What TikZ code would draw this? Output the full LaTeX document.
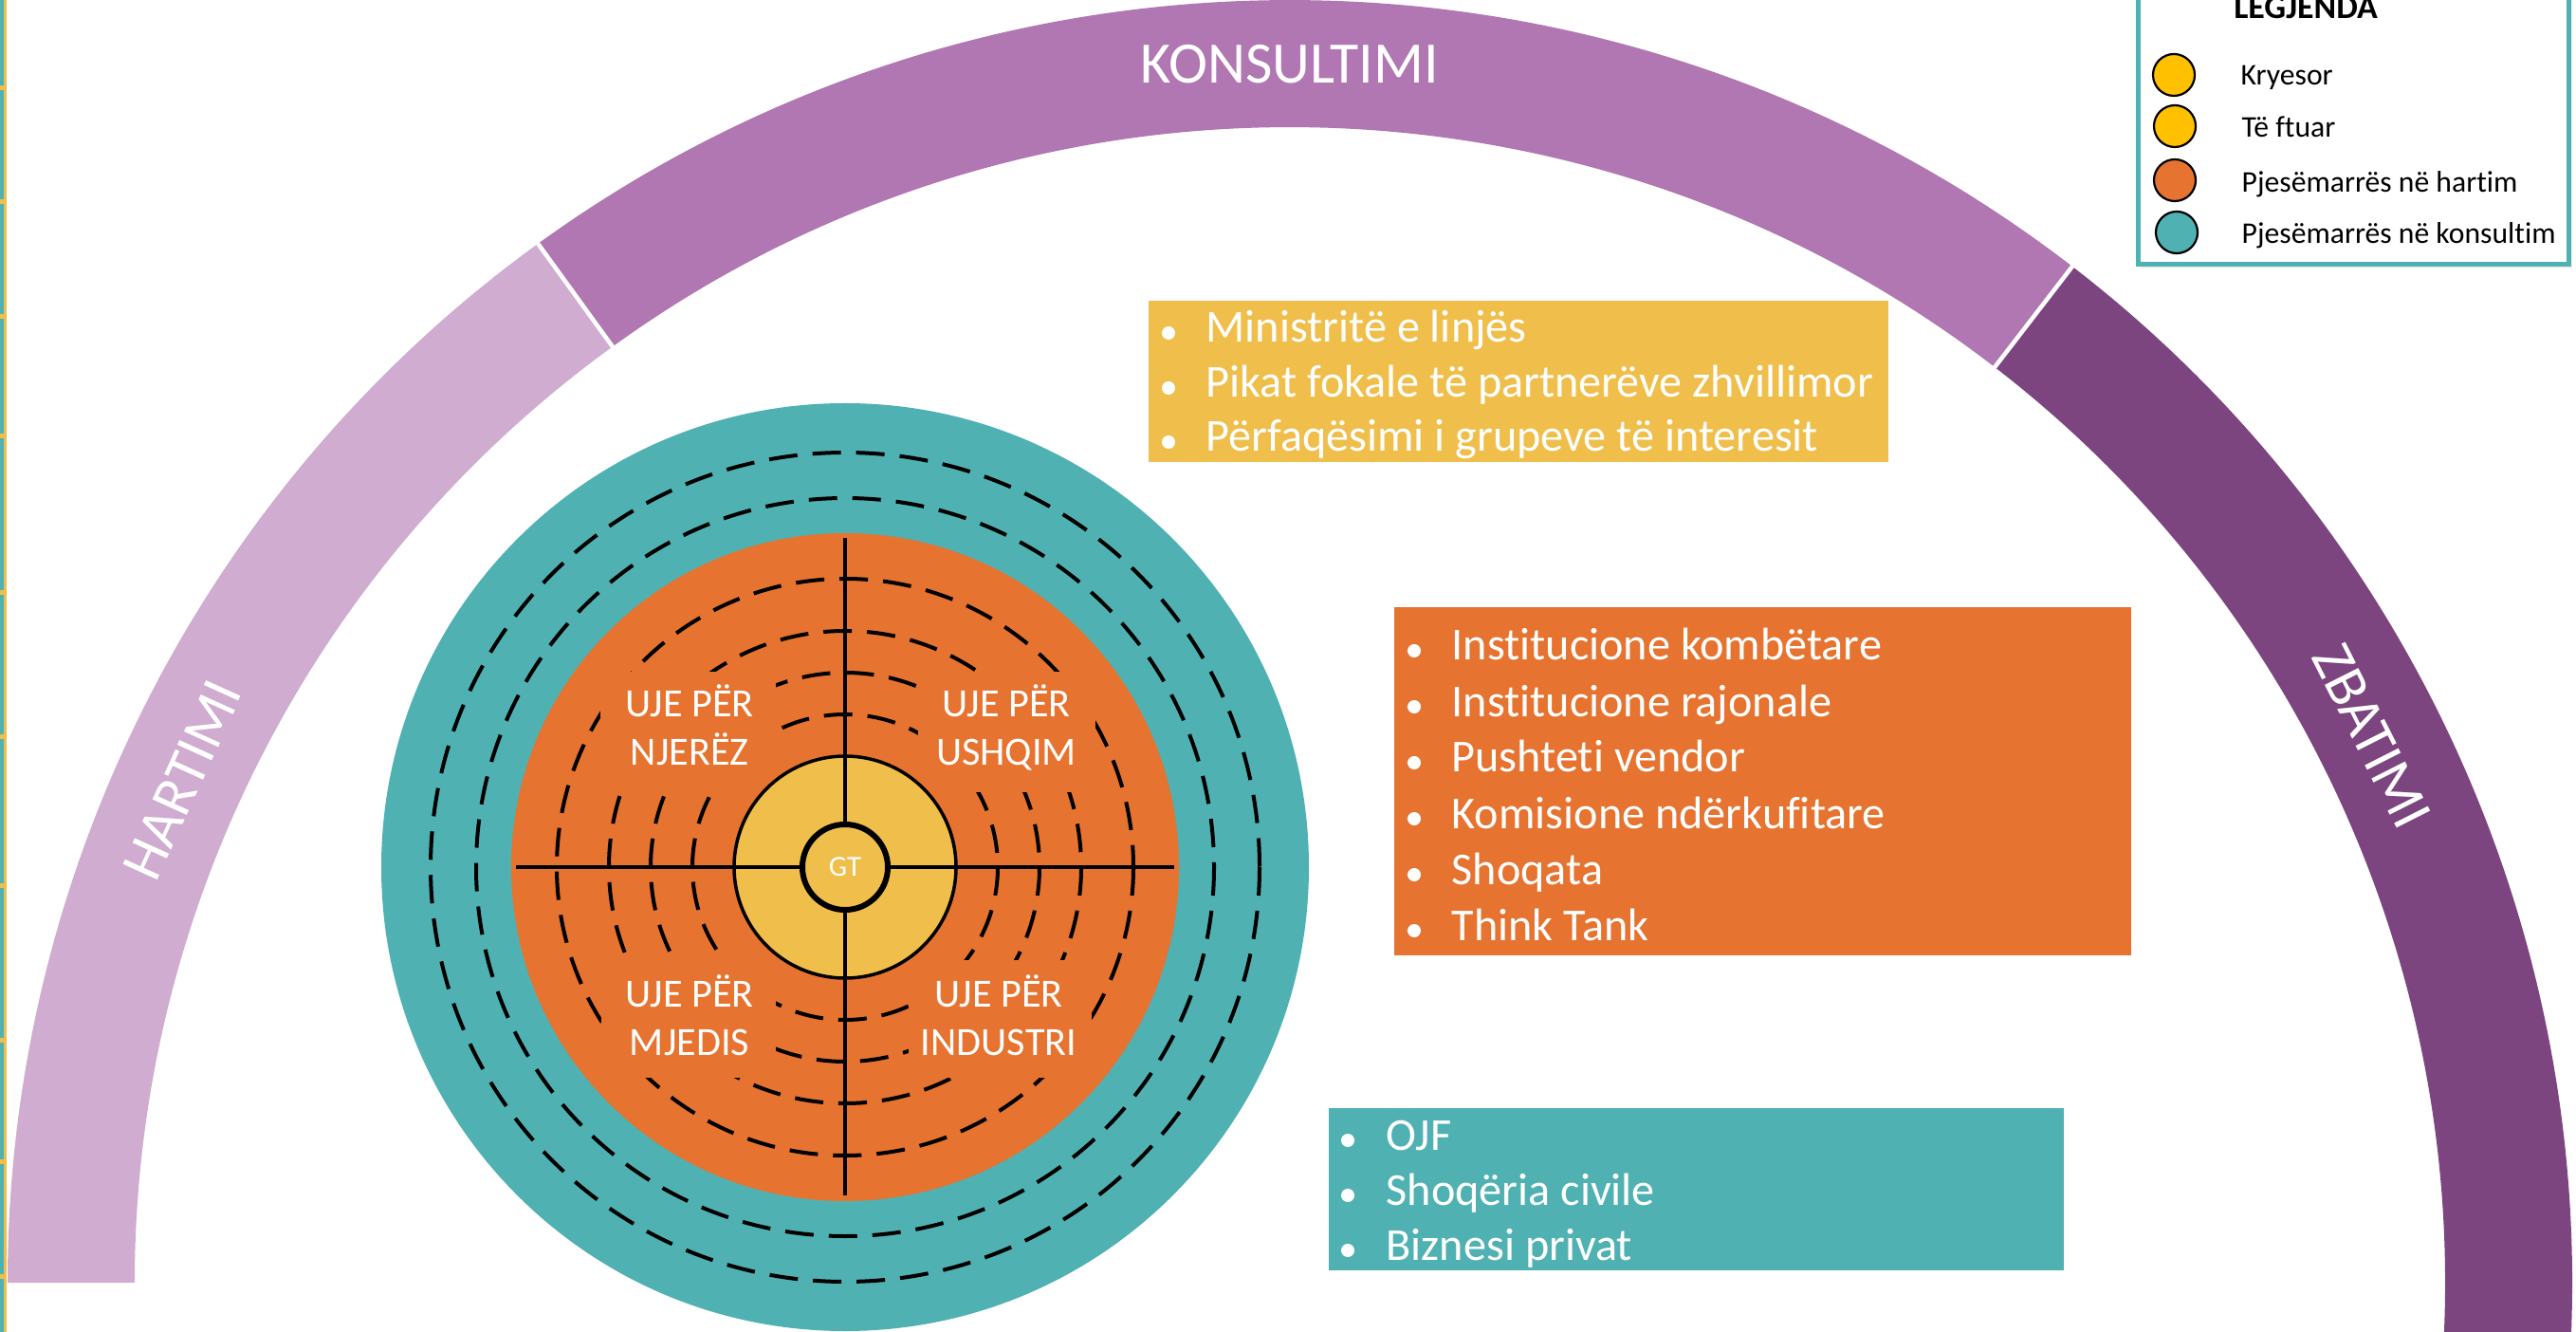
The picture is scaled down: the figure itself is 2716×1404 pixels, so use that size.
\documentclass[tikz,border=0pt]{standalone}
\usepackage{fontspec}
\setmainfont[Ligatures=NoCommon]{Carlito}
\definecolor{hart}{HTML}{CFACD0}
\definecolor{kons}{HTML}{B077B2}
\definecolor{zbat}{HTML}{7C4580}
\definecolor{tealc}{HTML}{50B1B2}
\definecolor{orangec}{HTML}{E6732F}
\definecolor{yelc}{HTML}{F0BE4A}
\definecolor{legyel}{HTML}{FFC000}
\begin{document}
\begin{tikzpicture}[x=0.01cm,y=-0.01cm,
  big/.style={text=white, font=\fontsize{17.6}{21}\selectfont, inner sep=0},
  item/.style={anchor=base west, text=white, font=\fontsize{13.7}{16}\selectfont, inner sep=0},
  quad/.style={anchor=base, text=white, font=\fontsize{12}{14}\selectfont, inner sep=0},
  leg/.style={anchor=base west, font=\fontsize{9}{11}\selectfont, inner sep=0},
  legdot/.style={circle, draw=black, line width=0.022cm, minimum size=0.44cm, inner sep=0},
  boxn/.style={rectangle, inner sep=0, draw=none, anchor=north west},
  occ/.style={rectangle, inner sep=0, draw=none, fill=orangec},
  dashc/.style={draw=black, line width=0.04cm, dash pattern=on 0.3cm off 0.16cm},
  crossl/.style={draw=black, line width=0.037cm}]
\useasboundingbox (0,0) rectangle (2716,1404);
\clip (0,0) rectangle (2716,1404);
% left edge strip
\fill[yelc] (0,0) rectangle (7,1404);
\fill[tealc] (0,0) rectangle (3.5,1404);
\foreach \yy in {90,210,331,457,622,774,931,1094,1222,1343}
  \fill[yelc] (0,\yy) rectangle (7,\yy+5);
% arc segments
\begin{scope}[shift={(1360,1352)}]
  \fill[hart] (-180:1352) arc[start angle=-180, end angle=-125.9, radius=1352]
     -- (-125.9:1218) arc[start angle=-125.9, end angle=-180, radius=1218] -- cycle;
  \fill[kons] (-125.9:1352) arc[start angle=-125.9, end angle=-52.4, radius=1352]
     -- (-52.4:1218) arc[start angle=-52.4, end angle=-125.9, radius=1218] -- cycle;
  \fill[zbat] (-52.4:1352) arc[start angle=-52.4, end angle=6, radius=1352]
     -- (6:1218) arc[start angle=6, end angle=-52.4, radius=1218] -- cycle;
  \draw[white, line width=0.045cm] (-125.9:1205) -- (-125.9:1365);
  \draw[white, line width=0.045cm] (-52.4:1205) -- (-52.4:1365);
  \node[big] (kons) at (-90:1284) {KONSULTIMI};
  \node[big, rotate=65.6] (hart) at (-155.6:1282) {HARTIMI};
  \node[big, rotate=-63.2] (zbat) at (-26.8:1278) {ZBATIMI};
\end{scope}
% target
\fill[tealc] (891,914) circle[radius=489];
\draw[dashc] (891,914) circle[radius=437];
\draw[dashc] (891,914) circle[radius=389];
\fill[orangec] (891,914) circle[radius=352];
\foreach \r in {304,249,205,161}
  \draw[dashc] (891,914) circle[radius=\r];
\node[occ, minimum width=1.85cm, minimum height=1.27cm] (o1) at (725.5,771.5) {};
\node[occ, minimum width=1.87cm, minimum height=1.27cm] (o2) at (1061.5,771.5) {};
\node[occ, minimum width=1.84cm, minimum height=1.24cm] (o3) at (726,1074) {};
\node[occ, minimum width=1.93cm, minimum height=1.24cm] (o4) at (1054.5,1074) {};
\fill[yelc, draw=black, line width=0.035cm] (891,914) circle[radius=117];
\draw[crossl] (544,914) -- (1238,914);
\draw[crossl] (891,567) -- (891,1260);
\node[circle, draw=black, fill=yelc, line width=0.06cm, minimum size=0.90cm, inner sep=0,
      text=white, font=\fontsize{8.7}{10}\selectfont] (gt) at (891,914) {GT};
\node[quad] (q1a) at (727,756) {UJE PËR};
\node[quad] (q1b) at (727,807) {NJERËZ};
\node[quad] (q2a) at (1061,756) {UJE PËR};
\node[quad] (q2b) at (1061,807) {USHQIM};
\node[quad] (q3a) at (727,1061) {UJE PËR};
\node[quad] (q3b) at (727,1112) {MJEDIS};
\node[quad] (q4a) at (1053,1061) {UJE PËR};
\node[quad] (q4b) at (1053,1112) {INDUSTRI};
% yellow box
\node[boxn, fill=yelc, minimum width=7.80cm, minimum height=1.70cm] (ybox) at (1210,316) {};
\foreach \yy/\t [count=\i] in {361/Ministritë e linjës, 419/Pikat fokale të partnerëve zhvillimor, 476/Përfaqësimi i grupeve të interesit}{
  \fill[white] (1232,\yy-10) circle[radius=7];
  \node[item] (y\i) at (1271,\yy) {\t};
}
% orange box
\node[boxn, fill=orangec, minimum width=7.77cm, minimum height=3.67cm] (obox) at (1469,639) {};
\foreach \yy/\t [count=\i] in {696/Institucione kombëtare, 755/Institucione rajonale, 814/Pushteti vendor, 873/Komisione ndërkufitare, 932/Shoqata, 991/Think Tank}{
  \fill[white] (1491,\yy-10) circle[radius=7];
  \node[item] (or\i) at (1530,\yy) {\t};
}
% teal box
\node[boxn, fill=tealc, minimum width=7.75cm, minimum height=1.71cm] (tbox) at (1400,1167) {};
\foreach \yy/\t [count=\i] in {1212/OJF, 1270/Shoqëria civile, 1328/Biznesi privat}{
  \fill[white] (1421,\yy-10) circle[radius=7];
  \node[item] (t\i) at (1461,\yy) {\t};
}
% legend
\fill[black!6] (2256,-20) rectangle (2712,283);
\node[boxn, draw=tealc, fill=white, line width=0.045cm, minimum width=4.54cm, minimum height=2.96cm] (legbox) at (2252,-20) {};
\node[anchor=base, inner sep=0, font=\bfseries\fontsize{10.2}{12}\selectfont] (legt) at (2431,20) {LEGJENDA};
\node[legdot, fill=legyel] (d1) at (2292,79) {};
\node[legdot, fill=legyel] (d2) at (2293,133) {};
\node[legdot, fill=orangec] (d3) at (2293,190) {};
\node[legdot, fill=tealc] (d4) at (2295,245) {};
\node[leg] (l1) at (2362,90) {Kryesor};
\node[leg] (l2) at (2363,145) {Të ftuar};
\node[leg] (l3) at (2363,203) {Pjesëmarrës në hartim};
\node[leg] (l4) at (2363,257) {Pjesëmarrës në konsultim};
\end{tikzpicture}
\end{document}
